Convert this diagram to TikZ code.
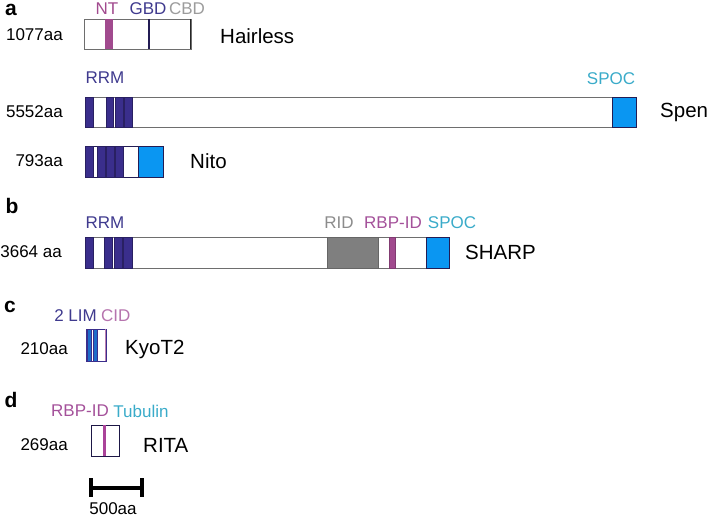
\documentclass[tikz,border=0pt]{standalone}
\usepackage{fontspec}
\setmainfont{Liberation Sans}
\definecolor{navy}{HTML}{3A2E8C}
\definecolor{navylab}{HTML}{3F3A8E}
\definecolor{mag}{HTML}{A14A8E}
\definecolor{maglab}{HTML}{A4519A}
\definecolor{spocfill}{HTML}{0A96F2}
\definecolor{spoclab}{HTML}{3AABC9}
\definecolor{grayfill}{HTML}{7F7F7F}
\definecolor{graylab}{HTML}{8C8C8C}
\definecolor{cbdlab}{HTML}{9C9C9C}
\definecolor{outline}{HTML}{6E6E6E}
\tikzset{
  lab/.style={inner sep=0pt, font=\fontsize{17}{20}\selectfont},
  aa/.style={lab, anchor=east},
  pname/.style={inner sep=0pt, anchor=west, font=\fontsize{20.5}{24}\selectfont},
  panel/.style={inner sep=0pt, font=\fontsize{21}{24}\selectfont\bfseries},
  pbox/.style={draw=outline, line width=0.9pt, fill=white},
  rrm/.style={fill=navy, draw=navy!70!black, line width=0.6pt},
  spoc/.style={fill=spocfill, draw=navy!60!black, line width=0.6pt},
  scalebar/.style={line width=3.4pt},
}
\begin{document}
\begin{tikzpicture}[x=1pt,y=-1pt]
\useasboundingbox (0,0) rectangle (709,518);
% ---------- panel a ----------
\node[panel, anchor=base] (pa) at (11,15.5) {a};
% Hairless
\node[lab, text=mag] (lnt) at (107,8.5) {NT};
\node[lab, text=navylab] (lgbd) at (148,8.5) {GBD};
\node[lab, text=cbdlab] (lcbd) at (187,8.5) {CBD};
\node[aa] (aah) at (63,35) {1077aa};
\draw[pbox] (84,19) rectangle (191,49);
\fill[mag] (105,19) rectangle (113,49);
\draw[navy!60!black, line width=1.6pt] (149,19) -- (149,49);
\draw[black!85, line width=1.6pt] (190.5,19) -- (190.5,49);
\node[pname] (nh) at (220,36) {Hairless};
% Spen
\node[lab, text=navylab] (lrrm1) at (105,78) {RRM};
\node[lab, text=spoclab] (lspoc1) at (611,79) {SPOC};
\node[aa] (aas) at (63,112) {5552aa};
\draw[pbox] (85,97) rectangle (636,127);
\draw[rrm] (85,97) rectangle (93,127);
\draw[rrm] (106,97) rectangle (113.5,127);
\draw[rrm] (115.5,97) rectangle (123,127);
\draw[rrm] (124.5,97) rectangle (132.5,127);
\draw[spoc] (612,97) rectangle (636,127);
\node[pname] (ns) at (660,112) {Spen};
% Nito
\node[aa] (aan) at (63,161) {793aa};
\draw[pbox, draw=navy!60!black] (85,146) rectangle (163,177);
\draw[rrm] (85,146) rectangle (93,177);
\draw[rrm] (97,146) rectangle (105,177);
\draw[rrm] (106,146) rectangle (114,177);
\draw[rrm] (115,146) rectangle (123,177);
\draw[spoc] (138,146) rectangle (163,177);
\node[pname] (nn) at (190,161) {Nito};
% ---------- panel b ----------
\node[panel] (pb) at (12,206) {b};
\node[lab, text=navylab] (lrrm2) at (105,223) {RRM};
\node[lab, text=graylab] (lrid) at (339,223) {RID};
\node[lab, text=maglab] (lrbp) at (393,223) {RBP-ID};
\node[lab, text=spoclab] (lspoc2) at (452,223) {SPOC};
\node[aa] (aab) at (62,252) {3664 aa};
\draw[pbox] (85,237) rectangle (449,268);
\draw[rrm] (85,237) rectangle (93,268);
\draw[rrm] (104,237) rectangle (112,268);
\draw[rrm] (114,237) rectangle (122,268);
\draw[rrm] (123.5,237) rectangle (132,268);
\draw[fill=grayfill, draw=grayfill!80!black, line width=0.6pt] (327,237) rectangle (378,268);
\draw[fill=mag, draw=mag!80!black, line width=0.6pt] (389,237) rectangle (395,268);
\draw[spoc] (426,237) rectangle (449,268);
\node[pname] (nsh) at (465,252) {SHARP};
% ---------- panel c ----------
\node[panel] (pc) at (10,307) {c};
\node[lab, text=navylab, anchor=east] (llim) at (97,316) {2 LIM};
\node[lab, text=maglab!80!white, anchor=west] (lcid) at (101,316) {CID};
\node[aa] (aac) at (68,349) {210aa};
\draw[fill=white, draw=navy, line width=0.8pt] (86,329) rectangle (106,361);
\draw[fill=spocfill!60!navy, draw=navy, line width=0.7pt] (87.5,329) rectangle (91,361);
\draw[fill=spocfill!60!navy, draw=navy, line width=0.7pt] (93,329) rectangle (97,361);
\draw[mag!70!white, line width=1.4pt] (105.3,329) -- (105.3,361);
\node[pname] (nk) at (125,349) {KyoT2};
% ---------- panel d ----------
\node[panel] (pd) at (11,400) {d};
\node[lab, text=maglab] (lrbp2) at (80,411) {RBP-ID};
\node[lab, text=spoclab] (ltub) at (141,411) {Tubulin};
\node[aa] (aad) at (68,445) {269aa};
\draw[fill=white, draw=navy!50!black, line width=0.8pt] (91,425) rectangle (119,456);
\draw[color=mag!90!magenta, line width=3pt] (104,425) -- (104,456);
\node[pname] (nr) at (143,445) {RITA};
% scale bar
\coordinate (sb1) at (91,488);
\coordinate (sb2) at (142,488);
\coordinate (sb1t) at (91,478);
\coordinate (sb1b) at (91,497);
\coordinate (sb2t) at (142,478);
\coordinate (sb2b) at (142,497);
\draw[scalebar] (sb1) -- (sb2);
\draw[scalebar] (sb1t) -- (sb1b);
\draw[scalebar] (sb2t) -- (sb2b);
\node[lab] (lsb) at (113,509) {500aa};
\end{tikzpicture}
\end{document}
